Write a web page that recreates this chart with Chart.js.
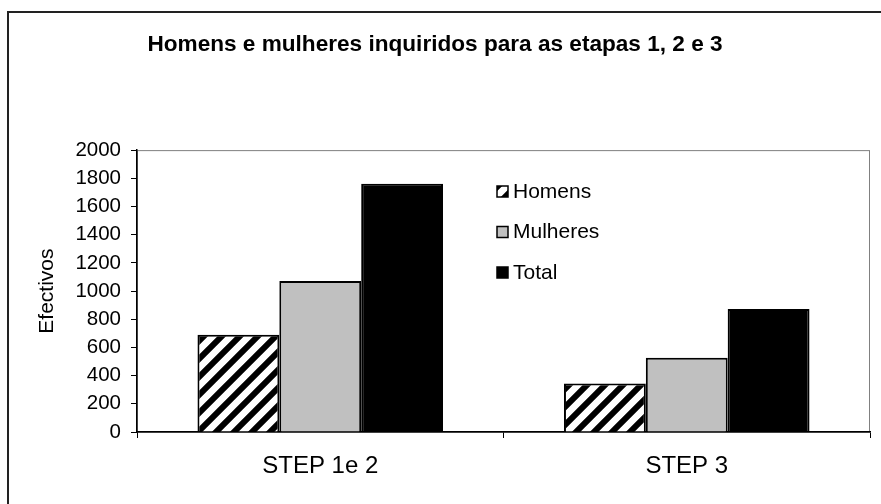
<!DOCTYPE html>
<html>
<head>
<meta charset="utf-8">
<script src="https://cdn.jsdelivr.net/npm/chart.js@4"></script>
<style>
  html, body { margin: 0; padding: 0; background: #fff; }
  #wrap { width: 881px; height: 504px; position: relative; }
</style>
</head>
<body>
<div id="wrap"><canvas id="barChart"></canvas></div>
<script>
// data
var categories = ['STEP 1e 2', 'STEP 3'];
var seriesNames = ['Homens', 'Mulheres', 'Total'];
var homens = [690, 345];
var mulheres = [1072, 527];
var total = [1762, 872];
var yTicks = [0, 200, 400, 600, 800, 1000, 1200, 1400, 1600, 1800, 2000];

var FONT = "'Liberation Sans', Arial, sans-serif";

// diagonal hatch for Homens
function makeHatch() {
  var c = document.createElement('canvas');
  c.width = 18; c.height = 18;
  var g = c.getContext('2d');
  g.fillStyle = '#fff';
  g.fillRect(0, 0, 18, 18);
  g.strokeStyle = '#000';
  g.lineWidth = 6;
  g.beginPath();
  g.moveTo(-4, 22); g.lineTo(22, -4);
  g.moveTo(-22, 22); g.lineTo(4, -4);
  g.moveTo(14, 22); g.lineTo(40, -4);
  g.stroke();
  return g.createPattern(c, 'repeat');
}
var hatch = makeHatch();

// frame round the whole picture + plot box
var framePlugin = {
  id: 'frame',
  beforeDraw: function (chart) {
    var ctx = chart.ctx, a = chart.chartArea;
    ctx.save();
    ctx.strokeStyle = '#222';
    ctx.lineWidth = 2;
    ctx.strokeRect(8, 12, 900, 600);
    ctx.strokeStyle = '#808080';
    ctx.lineWidth = 1;
    ctx.strokeRect(a.left + 0.5, a.top + 0.5, a.right - a.left - 1, a.bottom - a.top);
    ctx.restore();
  }
};

// legend sitting inside the plot
var legendPlugin = {
  id: 'innerLegend',
  afterDraw: function (chart) {
    var ctx = chart.ctx;
    ctx.save();
    ctx.font = '21px ' + FONT;
    ctx.textBaseline = 'middle';
    chart.data.datasets.forEach(function (ds, i) {
      var y = 191 + i * 40.5;
      ctx.fillStyle = ds.backgroundColor;
      ctx.fillRect(497, y - 5, 11, 11);
      ctx.strokeStyle = '#000';
      ctx.lineWidth = 1.5;
      ctx.strokeRect(497, y - 5, 11, 11);
      ctx.fillStyle = '#000';
      ctx.fillText(ds.label, 513, y + 1);
    });
    ctx.restore();
  }
};

var barChartData = {
  labels: categories,
  datasets: [
    { label: seriesNames[0], data: homens, backgroundColor: hatch },
    { label: seriesNames[1], data: mulheres, backgroundColor: '#c0c0c0' },
    { label: seriesNames[2], data: total, backgroundColor: '#000' }
  ]
};
barChartData.datasets.forEach(function (ds) {
  ds.borderColor = '#000';
  ds.borderWidth = 2;
  ds.barPercentage = 1;
  ds.categoryPercentage = 0.67;
});

var barChartOptions = {
  responsive: true,
  maintainAspectRatio: false,
  animation: false,
  layout: { padding: { left: 0, right: 11, top: 0, bottom: 0 } },
  plugins: {
    legend: { display: false },
    tooltip: { enabled: false },
    title: {
      display: true,
      text: 'Homens e mulheres inquiridos para as etapas 1, 2 e 3',
      color: '#000',
      font: { family: FONT, size: 22.6, weight: 'bold' },
      padding: { top: 31, bottom: 92 }
    }
  },
  scales: {
    x: {
      afterFit: function (s) { s.height = 72; },
      grid: { display: true, drawOnChartArea: false, drawTicks: true, tickLength: 6, color: '#000', offset: true },
      border: { display: true, color: '#000', width: 1.5 },
      ticks: { color: '#000', font: { family: FONT, size: 24 }, padding: 14, maxRotation: 0 }
    },
    y: {
      min: 0,
      max: 2000,
      afterFit: function (s) { s.width = 137; },
      afterBuildTicks: function (s) { s.ticks = yTicks.map(function (v) { return { value: v }; }); },
      grid: { display: true, drawOnChartArea: false, drawTicks: true, tickLength: 6, color: '#000' },
      border: { display: true, color: '#000', width: 1.5 },
      ticks: {
        color: '#000',
        font: { family: FONT, size: 20.5 },
        padding: 10,
        callback: function (v) { return String(v); }
      },
      title: {
        display: true,
        text: 'Efectivos',
        color: '#000',
        font: { family: FONT, size: 21 },
        padding: { top: 35, bottom: 0 }
      }
    }
  }
};

var barChart = new Chart(document.getElementById('barChart').getContext('2d'), {
  type: 'bar',
  data: barChartData,
  options: barChartOptions,
  plugins: [framePlugin, legendPlugin]
});
</script>
</body>
</html>
